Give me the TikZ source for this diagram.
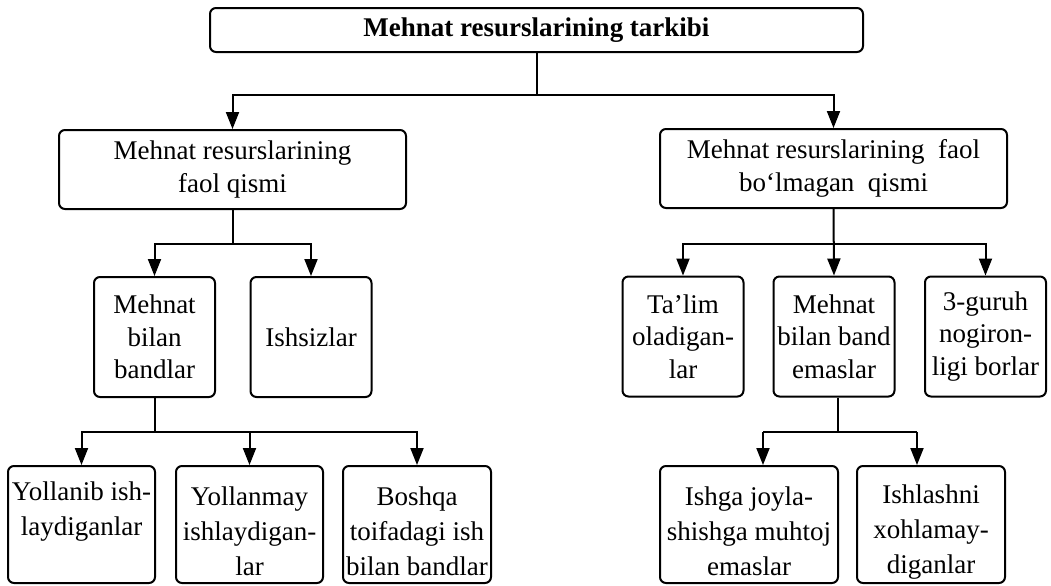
\documentclass[tikz,border=0pt]{standalone}
\usepackage{fontspec}
\setmainfont{Liberation Serif}
\usetikzlibrary{arrows.meta, calc, positioning}

% linha de topo mais alta nas caixas de baixo
\newcommand{\lowlift}{\rule{0pt}{16.5pt}}

\begin{document}
\begin{tikzpicture}[
    x=0.5pt, y=-0.5pt,
    font=\fontsize{13.5}{16.2}\selectfont,
    box/.style={draw, line width=1pt, rounded corners=3pt, align=center, inner sep=1pt},
    wide/.style={box, minimum width=173.5pt, minimum height=39.5pt},
    small/.style={box, minimum width=60.5pt, minimum height=60pt},
    low/.style={box, inner ysep=0pt, minimum height=58.5pt, font=\fontsize{13.5}{17.5}\selectfont},
    link/.style={line width=1pt},
    arr/.style={line width=1pt, -{Triangle[width=6.5pt, length=8.5pt]}}
]
    \useasboundingbox (0,0) rectangle (1051,585);

    % 1. Caixa de topo
    \node[box, minimum width=326.5pt, minimum height=22pt,
          font=\fontsize{13.5}{16.2}\selectfont\bfseries] (top) at (536.5,30)
          {Mehnat resurslarining tarkibi};

    % 2. Segundo nivel
    \node[wide] (faol) at (232.5,169.5) {Mehnat resurslarining\\faol qismi};
    \node[wide] (nofaol) at (833.5,168.5) {Mehnat resurslarining\ \ faol\\bo‘lmagan\ \ qismi};

    % 3. Terceiro nivel
    \node[small] (bandlar) at (154.5,337) {Mehnat\\bilan\\bandlar};
    \node[small] (ishsiz) at (311,337) {Ishsizlar};
    \node[small] (talim) at (683,336.5) {Ta’lim\\oladigan-\\lar};
    \node[small] (emas) at (834,336.5) {Mehnat\\bilan band\\emaslar};
    \node[small] (nogiron) at (985.5,336.5) {3-guruh\\nogiron-\\ligi borlar};

    % 4. Quarto nivel
    \node[low, minimum width=73.5pt] (yollanib) at (81.5,524.5) {\lowlift Yollanib ish-\\laydiganlar\\\strut};
    \node[low, minimum width=73.5pt] (yollanmay) at (249.5,524.5) {\lowlift Yollanmay\\ishlaydigan-\\lar};
    \node[low, minimum width=74pt] (boshqa) at (417,524.5) {\lowlift Boshqa\\toifadagi ish\\bilan bandlar};
    \node[low, minimum width=89pt] (ishga) at (749,524.5) {\lowlift Ishga joyla-\\shishga muhtoj\\emaslar};
    \node[low, minimum width=74pt] (ishlash) at (931,524.5) {\lowlift Ishlashni\\xohlamay-\\diganlar};

    % 5. Pontos de juncao
    \coordinate (tj) at (536.5,95);
    \coordinate (fj) at (232.5,244);
    \coordinate (nj) at (833.5,244);
    \coordinate (bj) at (154.5,432);
    \coordinate (ej) at (838,432);
    \coordinate (ea) at (763,432);
    \coordinate (eb) at (917,432);

    % 6. Ligacoes
    \draw[link] (top.south) -- (tj);
    \draw[arr] (tj) -| (faol.north);
    \draw[arr] (tj) -| (nofaol.north);

    \draw[link] (faol.south) -- (fj);
    \draw[arr] (fj) -| (bandlar.north);
    \draw[arr] (fj) -| (ishsiz.north);

    \draw[arr] (nofaol.south) -- (emas.north);
    \draw[arr] (nj) -| (talim.north);
    \draw[arr] (nj) -| (nogiron.north);

    \draw[link] (bandlar.south) -- (bj);
    \draw[arr] (bj) -| (yollanib.north);
    \draw[arr] (bj) -| (yollanmay.north);
    \draw[arr] (bj) -| (boshqa.north);

    \draw[link] (ej |- emas.south) -- (ej);
    \draw[link] (ea) -- (eb);
    \draw[arr] (ea) -- (ea |- ishga.north);
    \draw[arr] (eb) -- (eb |- ishlash.north);

\end{tikzpicture}
\end{document}
